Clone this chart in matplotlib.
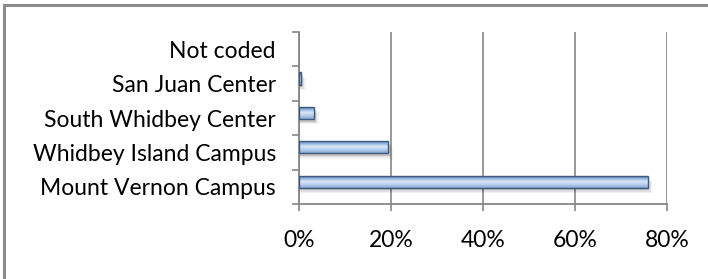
import matplotlib.pyplot as plt
import numpy as np
from matplotlib.lines import Line2D
from matplotlib.colors import LinearSegmentedColormap

# campuses, bottom to top
campuses = ['Mount Vernon Campus', 'Whidbey Island Campus', 'South Whidbey Center',
            'San Juan Center', 'Not coded']
share = [75.8, 19.3, 3.2, 0.4, 0.0]  # percent
xticks = [0, 20, 40, 60, 80]

plt.rcParams['font.family'] = ['Lato', 'DejaVu Sans']

fig = plt.figure(figsize=(7.08, 2.79), dpi=100)
ax = fig.add_axes([0.423, 0.269, 0.519, 0.616])

grey = '#868686'
ypos = np.arange(len(campuses))
h = 0.35
off = 0.15  # bars sit a little above the slot centre

# light-blue vertical gradient, like the office bevel
cmap = LinearSegmentedColormap.from_list('bevel', ['#46628a', '#8fb0dc', '#dbe8f8', '#b3cbec', '#8aa7d0'])
grad = np.linspace(0, 1, 64).reshape(-1, 1)

for y, v in zip(ypos, share):
    if v <= 0:
        continue
    # soft shadow
    for k, a in enumerate([0.12, 0.08, 0.05]):
        ax.barh(y + off - 0.08 - 0.04 * k, v + 0.3 + 0.35 * k, height=h, left=0,
                color='black', alpha=a, lw=0, zorder=2)
    b = ax.barh(y + off, v, height=h, color='none', edgecolor='#3f5a80', lw=1.0, zorder=4)[0]
    im = ax.imshow(grad, cmap=cmap, aspect='auto', zorder=3,
                   extent=[0, v, y + off - h / 2, y + off + h / 2])
    im.set_clip_path(b)

ax.set_xlim(0, 80)
ax.set_ylim(-0.5, len(campuses) - 0.5)
ax.set_xticks(xticks)
ax.set_xticklabels([f'{t}%' for t in xticks])
ax.set_yticks(np.arange(len(campuses) + 1) - 0.5, minor=True)
ax.set_yticks(ypos)
ax.set_yticklabels(campuses)
ax.tick_params(axis='y', which='major', length=0, pad=17, labelsize=16.5)
ax.tick_params(axis='y', which='minor', length=5, color=grey, width=1.2)
ax.tick_params(axis='x', length=5, color=grey, width=1.2, pad=14, labelsize=16.5)
ax.grid(axis='x', color=grey, lw=1.2, zorder=1)
ax.set_axisbelow(True)

for s in ['top', 'right']:
    ax.spines[s].set_visible(False)
for s in ['left', 'bottom']:
    ax.spines[s].set_color(grey)
    ax.spines[s].set_linewidth(1.3)

# chart area border (only top and left visible in the crop)
fig.add_artist(Line2D([3.5 / 708, 1.0], [1 - 4.5 / 279, 1 - 4.5 / 279], color='#8c8c8c', lw=2.2))
fig.add_artist(Line2D([3.5 / 708, 3.5 / 708], [0, 1 - 4.5 / 279], color='#8c8c8c', lw=2.2))

fig.savefig('out.png', dpi=100)
